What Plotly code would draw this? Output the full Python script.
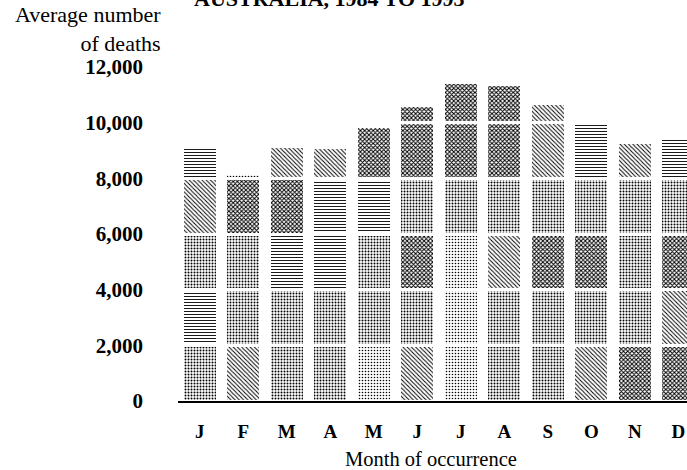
import plotly.graph_objects as go

# ---- data ----
months = ["Jan", "Feb", "Mar", "Apr", "May", "Jun", "Jul", "Aug", "Sep", "Oct", "Nov", "Dec"]
month_ticks = ["J", "F", "M", "A", "M", "J", "J", "A", "S", "O", "N", "D"]
avg_deaths = [9140, 8170, 9140, 9100, 9860, 10630, 11450, 11370, 10680, 10050, 9280, 9460]
y_ticks = [0, 2000, 4000, 6000, 8000, 10000, 12000]
band = 2000  # bars are drawn in 2,000-death bands

# ---- style (texture of each band, bottom to top, per month) ----
# codes: l light dots, m mid dots, h horizontal dashes, d diagonal, k dark
texture = [
    ["m", "h", "m", "d", "h", "l"],   # J
    ["d", "m", "m", "k", "l", "l"],   # F
    ["m", "m", "h", "k", "d", "l"],   # M
    ["m", "m", "h", "h", "d", "l"],   # A
    ["l", "m", "m", "h", "k", "l"],   # M
    ["d", "m", "k", "m", "k", "k"],   # J
    ["l", "l", "l", "m", "k", "k"],   # J
    ["m", "m", "d", "m", "k", "k"],   # A
    ["m", "m", "k", "m", "d", "d"],   # S
    ["d", "m", "k", "m", "h", "l"],   # O
    ["k", "m", "m", "m", "d", "l"],   # N
    ["k", "d", "k", "m", "h", "l"],   # D
]
tex_style = {
    "l": (".", 0.22, 3),
    "m": (".", 0.34, 3),
    "h": ("-", 0.30, 3),
    "d": ("\\", 0.33, 3),
    "k": ("x", 0.55, 3),
}

W, H = 687, 470
ml, mr, mt, mb = 178, 0, 67, 470 - 401
pw, ph = W - ml - mr, H - mt - mb

def px_x(p):  # pixel -> paper x
    return (p - ml) / pw

def px_y(p):  # pixel -> paper y
    return (H - mb - p) / ph

fig = go.Figure()
xs = list(range(len(months)))
n_bands = max(int(v // band) + 1 for v in avg_deaths)
for k in range(n_bands):
    seg = [max(0, min(band, v - k * band)) for v in avg_deaths]
    st = [tex_style[texture[i][k]] for i in range(len(months))]
    fig.add_trace(go.Bar(
        x=xs, y=seg, name=f"{k*band}-{(k+1)*band}",
        customdata=months,
        width=0.8,
        marker=dict(
            color="white",
            line=dict(color="white", width=3),
            pattern=dict(shape=[s[0] for s in st], solidity=[s[1] for s in st],
                         size=[s[2] for s in st],
                         fgcolor="#000000", bgcolor="#ffffff", fillmode="replace"),
        ),
        hovertemplate="%{customdata}: %{y}<extra></extra>",
        showlegend=False,
    ))

serif = "Liberation Serif"
fig.update_layout(
    width=W, height=H,
    margin=dict(l=ml, r=mr, t=mt, b=mb, pad=0),
    barmode="stack",
    paper_bgcolor="white", plot_bgcolor="white",
    font=dict(family=serif, size=20, color="black"),
    xaxis=dict(
        range=[-0.5, 11.2], tickvals=xs, ticktext=month_ticks,
        showline=True, linecolor="black", linewidth=2, showgrid=False,
        zeroline=False, ticks="", ticklabelstandoff=12, automargin=False,
        ticklabeloverflow="allow",
        tickfont=dict(family=serif, size=19, weight="bold"),
    ),
    yaxis=dict(
        range=[0, 12000], tickvals=y_ticks, tickformat=",d",
        showline=False, showgrid=False, zeroline=False, ticks="",
        ticklabelstandoff=34, automargin=False,
        tickfont=dict(family=serif, size=21, weight="bold"),
    ),
    annotations=[
        dict(text="AUSTRALIA, 1984 TO 1993", x=px_x(329), y=px_y(-2),
             xref="paper", yref="paper", xanchor="center", yanchor="middle",
             showarrow=False, font=dict(family=serif, size=22, weight="bold")),
        dict(text="Average number<br>of deaths", x=px_x(163), y=px_y(29),
             xref="paper", yref="paper", align="right",
             xanchor="right", yanchor="middle", showarrow=False,
             font=dict(family=serif, size=22)),
        dict(text="Month of occurrence", x=px_x(431), y=px_y(459), xref="paper", yref="paper",
             xanchor="center", yanchor="middle", showarrow=False,
             font=dict(family=serif, size=20.5)),
    ],
)

# the page body has a default 8px margin; remove it so the figure fills the window
fig.write_html("out.html", config={"displayModeBar": False},
               post_script="document.body.style.margin='0';")
